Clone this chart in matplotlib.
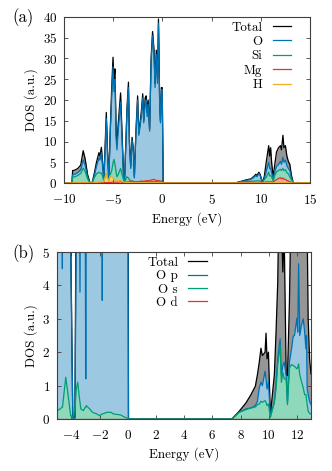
import matplotlib
matplotlib.use("Agg")
import matplotlib.pyplot as plt
import numpy as np

plt.rcParams['font.family'] = 'serif'
plt.rcParams['font.serif'] = ['cmr10', 'DejaVu Serif']
plt.rcParams['mathtext.fontset'] = 'cm'
plt.rcParams['axes.formatter.use_mathtext'] = True
plt.rcParams['axes.unicode_minus'] = True

# ---------------- Panel (a) data ----------------
E_a = [-10, -9.2, -9.12, -8.9, -8.6, -8.3, -8.05, -7.85, -7.6, -7.35, -7.15, -6.95, -6.7, -6.45,
       -6.35, -6.2, -6.05, -5.95, -5.82, -5.7, -5.58, -5.45, -5.3, -5.15, -5.02, -4.92, -4.82,
       -4.7, -4.62, -4.5, -4.25, -4.1, -3.95, -3.85, -3.6, -3.45, -3.35, -3.22, -3.08, -2.95,
       -2.85, -2.7, -2.52, -2.4, -2.25, -2.15, -2.0, -1.9, -1.75, -1.65, -1.55, -1.45, -1.3,
       -1.15, -1.0, -0.85, -0.75, -0.62, -0.5, -0.4, -0.28, -0.2, -0.1, -0.02, 0.08,
       7.4, 7.6, 8.0, 8.5, 9.0, 9.3, 9.5, 9.6, 9.8, 9.95, 10.15, 10.35, 10.55, 10.8, 10.9,
       11.0, 11.1, 11.25, 11.45, 11.6, 11.8, 12.0, 12.1, 12.25, 12.35, 12.5, 12.65, 12.8,
       12.95, 13.1, 13.3, 15]
total_a = [0, 0, 3.0, 3.1, 3.5, 4.3, 7.8, 5.8, 2.0, 0, 0, 2.0, 5.0, 7.3,
           6.5, 8.6, 4.0, 1.0, 9.0, 17.0, 8.0, 1.0, 13.0, 23.0, 30.3, 25.0, 27.5,
           12.0, 9.5, 14.0, 21.7, 12.0, 2.0, 0.5, 18.0, 24.3, 10.0, 4.0, 11.0, 8.0,
           1.5, 12.0, 21.0, 12.0, 15.0, 17.0, 21.5, 15.0, 20.5, 21.0, 17.0, 20.0, 13.0,
           30.0, 36.5, 32.0, 24.0, 32.0, 25.0, 39.5, 20.0, 15.0, 23.0, 23.0, 0,
           0, 0.15, 0.4, 0.75, 1.0, 1.6, 2.1, 1.8, 2.6, 2.0, 0.1, 1.5, 5.0, 9.0, 6.5,
           8.5, 5.0, 1.5, 5.0, 7.5, 8.5, 9.0, 8.0, 11.5, 8.5, 9.0, 6.5, 5.2,
           4.5, 2.0, 0, 0]
O_a = [0, 0, 2.0, 2.1, 2.5, 3.2, 5.6, 4.2, 1.4, 0, 0, 1.5, 4.0, 6.0,
       5.5, 7.3, 3.2, 0.7, 8.0, 15.5, 7.0, 0.7, 12.0, 21.0, 28.0, 22.0, 25.0,
       10.5, 8.0, 12.5, 19.5, 10.5, 1.5, 0.3, 17.0, 23.0, 9.5, 3.5, 10.3, 7.5,
       1.2, 11.5, 20.0, 11.5, 14.0, 16.0, 20.5, 14.5, 19.5, 20.0, 16.0, 19.0, 12.5,
       29.0, 35.5, 31.0, 23.0, 31.0, 24.0, 38.5, 19.5, 14.5, 22.5, 22.5, 0,
       0, 0.1, 0.3, 0.6, 0.9, 1.4, 1.8, 1.5, 2.3, 1.7, 0.05, 1.0, 2.8, 5.0, 3.5,
       3.5, 2.5, 0.8, 3.0, 4.0, 4.5, 5.2, 4.5, 6.2, 5.0, 5.5, 4.2, 3.5,
       3.0, 1.3, 0, 0]
Si_a = [0, 0, 1.4, 1.5, 1.8, 2.3, 3.6, 2.8, 1.0, 0, 0, 1.2, 2.2, 2.6,
        2.4, 2.4, 1.4, 0.4, 1.5, 2.3, 1.5, 0.6, 2.0, 3.0, 4.8, 5.7, 4.5,
        2.5, 1.5, 2.0, 3.5, 2.0, 0.8, 0.3, 1.5, 1.2, 0.8, 0.5, 0.5, 0.4,
        0.3, 0.3, 0.3, 0.3, 0.3, 0.3, 0.3, 0.3, 0.3, 0.3, 0.3, 0.3, 0.3,
        0.3, 0.3, 0.3, 0.3, 0.3, 0.3, 0.3, 0.2, 0.2, 0.2, 0.2, 0,
        0, 0.1, 0.25, 0.35, 0.4, 0.45, 0.5, 0.5, 0.55, 0.4, 0.05, 0.8, 1.4, 2.6, 1.7,
        1.8, 1.5, 0.5, 2.0, 2.7, 3.0, 3.3, 3.0, 3.5, 3.0, 3.2, 2.5, 2.2,
        1.5, 0.8, 0, 0]
Mg_a = [0, 0, 0.05, 0.05, 0.05, 0.05, 0.1, 0.05, 0.02, 0, 0, 0.02, 0.05, 0.05,
        0.05, 0.1, 0.05, 0.05, 0.1, 0.1, 0.1, 0.1, 0.1, 0.2, 0.2, 0.2, 0.2,
        0.2, 0.2, 0.2, 0.3, 0.2, 0.1, 0.1, 0.3, 0.4, 0.3, 0.5, 0.4, 0.3,
        0.3, 0.3, 0.3, 0.3, 0.4, 0.5, 0.4, 0.4, 0.5, 0.5, 0.6, 0.5, 0.6,
        0.7, 0.8, 0.9, 0.7, 0.6, 0.6, 0.6, 0.5, 0.4, 0.5, 0.4, 0,
        0, 0.02, 0.03, 0.05, 0.05, 0.05, 0.05, 0.05, 0.05, 0.05, 0.02, 0.1, 0.3, 0.3, 0.2,
        0.3, 0.3, 0.2, 0.6, 0.8, 1.1, 1.3, 1.0, 1.2, 0.9, 0.9, 0.6, 0.5,
        0.3, 0.1, 0, 0]
H_a = [0, 0, 0.05, 0.05, 0.05, 0.05, 0.05, 0.05, 0.02, 0, 0, 0.02, 0.1, 0.3,
       0.2, 0.3, 0.3, 0.4, 1.5, 2.3, 1.2, 0.4, 1.8, 1.5, 1.2, 1.0, 0.8,
       0.6, 0.5, 0.5, 0.6, 0.4, 0.3, 0.1, 0.2, 0.2, 0.1, 0.1, 0.05, 0.05,
       0.05, 0.05, 0.05, 0.05, 0.05, 0.05, 0.05, 0.05, 0.05, 0.05, 0.05, 0.05, 0.05,
       0.05, 0.05, 0.05, 0.05, 0.05, 0.05, 0.05, 0.05, 0.05, 0.05, 0.05, 0,
       0, 0, 0, 0, 0, 0, 0, 0, 0, 0, 0, 0.02, 0.05, 0.05, 0.05,
       0.05, 0.05, 0.02, 0.05, 0.05, 0.05, 0.05, 0.05, 0.05, 0.05, 0.05, 0.05, 0.05,
       0.02, 0.02, 0, 0]

# ---------------- Panel (b) data ----------------
E_b = [-5.0, -4.8, -4.66, -4.64, -4.62, -4.4, -4.2, -4.05, -3.9, -3.75, -3.65, -3.55, -3.45,
       -3.39, -3.33, -3.15, -3.02, -2.98, -2.94, -2.7, -2.5, -2.2, -2.0, -1.84, -1.81, -1.78,
       -1.5, -1.2, -1.0, -0.5, -0.2, 0.0, 0.05,
       7.38, 7.9, 8.38, 8.74, 9.05, 9.2, 9.33, 9.45, 9.55, 9.74, 9.81, 9.88, 9.98, 10.12,
       10.4, 10.52, 10.64, 10.72, 10.81, 10.9, 11.0, 11.1, 11.24, 11.33, 11.47, 11.62, 11.74,
       11.83, 12.0, 12.06, 12.12, 12.2, 12.32, 12.45, 12.55, 12.64, 12.68, 12.73, 12.8, 12.9,
       13.0]
total_b = [20, 22, 18, 12, 18, 10, 9, 5.5, 0.05, 0.05, 8, 12, 10,
           9, 12, 10, 9, 7, 9, 11, 12, 15, 18, 17, 14, 17,
           15, 20, 30, 25, 20, 22, 0,
           0, 0.23, 0.48, 0.73, 0.98, 1.33, 1.7, 2.12, 1.9, 2.0, 2.57, 1.8, 2.0, 0.13,
           1.33, 2.6, 4.1, 6.5, 9.0, 6.0, 4.4, 5.5, 1.33, 1.3, 3.5, 7.5, 8.0,
           8.5, 9.0, 8.0, 10.0, 11.5, 8.5, 9.0, 7.0, 6.5, 6.0, 5.6, 3.0, 1.8,
           1.35]
Op_b = [14, 15, 8, 4.5, 9, 8, 7, 5.2, 0.02, 0.02, 6, 10, 8,
        3.8, 9, 8, 6, 1.2, 7, 9, 10, 12, 14, 8, 3.55, 8,
        12, 16, 25, 20, 15, 10, 0,
        0, 0.2, 0.3, 0.33, 0.4, 0.53, 0.93, 1.1, 1.0, 1.43, 1.2, 0.9, 1.1, 0.1,
        0.5, 1.1, 1.8, 2.1, 2.4, 1.3, 1.6, 1.7, 1.3, 0.5, 1.7, 2.1, 2.48,
        2.5, 3.02, 2.6, 4.65, 2.5, 2.8, 3.0, 2.6, 2.1, 2.5, 0.9, 0.73, 0.53,
        0.43]
Os_b = [0.25, 0.3, 0.35, 0.35, 0.4, 1.25, 0.6, 0.1, 0.01, 0.3, 0.9, 1.1, 0.7,
        0.5, 0.3, 0.25, 0.35, 0.35, 0.4, 0.3, 0.2, 0.15, 0.1, 0.15, 0.15, 0.15,
        0.2, 0.2, 0.15, 0.12, 0.05, 0.02, 0,
        0, 0.2, 0.28, 0.33, 0.36, 0.43, 0.45, 0.53, 0.5, 0.55, 0.5, 0.4, 0.45, 0.05,
        0.5, 0.9, 1.63, 1.9, 2.2, 1.1, 1.4, 1.2, 1.2, 0.43, 1.53, 1.63, 1.6,
        1.58, 1.5, 1.55, 1.65, 1.33, 1.13, 0.93, 0.73, 0.73, 0.6, 0.43, 0.23, 0.17,
        0.15]
Od_b = [0.01] * len(E_b)

# ---------------- styling ----------------
c_tot_line, c_tot_fill = '#000000', '#969696'
c_O_line, c_O_fill = '#0072B2', '#9DC8E2'
c_Si_line, c_Si_fill = '#009E73', '#8ED8BC'
c_Mg_line, c_Mg_fill = '#E5332A', '#F4A59A'
c_H_line, c_H_fill = '#F0B020', '#F7D37A'

fig = plt.figure(figsize=(3.32, 4.71), dpi=100)
axa = fig.add_axes([64 / 332, 1 - 183 / 471, 246 / 332, 166 / 471])
axb = fig.add_axes([57.3 / 332, 1 - 419 / 471, 253.7 / 332, 167 / 471])

fs = 9.4


def style(ax):
    for s in ax.spines.values():
        s.set_color('#404040')
        s.set_linewidth(0.8)
    ax.tick_params(direction='in', top=True, right=True, length=3, width=0.6,
                   labelsize=fs, color='#404040')
    ax.tick_params(axis='x', pad=7)
    ax.tick_params(axis='y', pad=5)


# Panel (a)
series_a = [(total_a, c_tot_line, c_tot_fill, 'Total'),
            (O_a, c_O_line, c_O_fill, 'O'),
            (Si_a, c_Si_line, c_Si_fill, 'Si'),
            (Mg_a, c_Mg_line, c_Mg_fill, 'Mg'),
            (H_a, c_H_line, c_H_fill, 'H')]
for y, lc, fc, lab in series_a:
    axa.fill_between(E_a, 0, y, color=fc, lw=0)
    axa.plot(E_a, y, color=lc, lw=0.9, label=lab)
axa.set_xlim(-10, 15)
axa.set_ylim(0, 40)
axa.set_xticks([-10, -5, 0, 5, 10, 15])
axa.set_yticks(range(0, 41, 5))
axa.set_xlabel('Energy (eV)', fontsize=fs, labelpad=4)
axa.set_ylabel('DOS (a.u.)', fontsize=fs, labelpad=3)
style(axa)
axa.legend(loc='upper right', bbox_to_anchor=(0.955, 1.02), frameon=False, markerfirst=False,
           fontsize=fs, handlelength=1.4, handletextpad=0.8, labelspacing=0.17,
           borderaxespad=0.2)

# Panel (b)
series_b = [(total_b, c_tot_line, c_tot_fill, 'Total'),
            (Op_b, c_O_line, c_O_fill, 'O p'),
            (Os_b, c_Si_line, c_Si_fill, 'O s'),
            (Od_b, c_Mg_line, c_Mg_fill, 'O d')]
for y, lc, fc, lab in series_b:
    axb.fill_between(E_b, 0, y, color=fc, lw=0)
    axb.plot(E_b, y, color=lc, lw=0.9, label=lab)
axb.set_xlim(-5, 13)
axb.set_ylim(0, 5)
axb.set_xticks(range(-4, 13, 2))
axb.set_yticks(range(0, 6))
axb.set_xlabel('Energy (eV)', fontsize=fs, labelpad=4)
axb.set_ylabel('DOS (a.u.)', fontsize=fs, labelpad=3)
style(axb)
axb.legend(loc='upper right', bbox_to_anchor=(0.62, 1.02), frameon=False, markerfirst=False,
           fontsize=fs, handlelength=1.4, handletextpad=0.8, labelspacing=0.1,
           borderaxespad=0.2)

fig.text(12 / 332, 1 - 18 / 471, '(a)', fontsize=12, va='center', ha='left')
fig.text(12 / 332, 1 - 254 / 471, '(b)', fontsize=12, va='center', ha='left')

fig.savefig('out.png', dpi=100)
